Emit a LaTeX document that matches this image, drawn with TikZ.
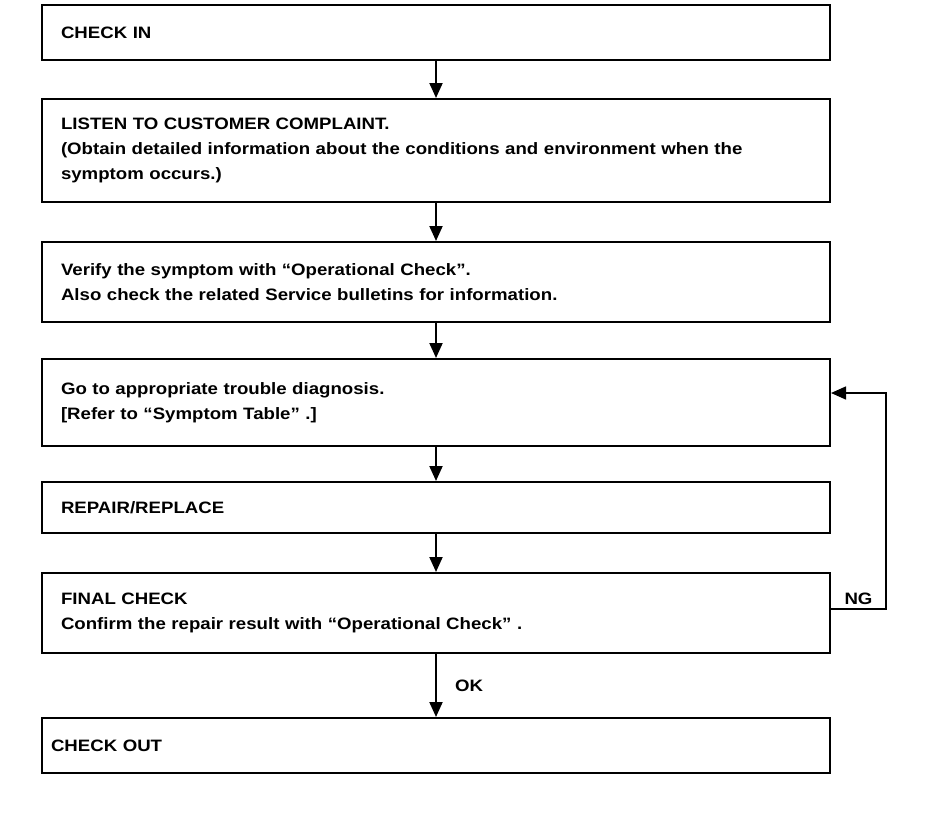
\documentclass[tikz,border=0pt]{standalone}
\usepackage{fontspec}
\setmainfont{Liberation Sans}[FakeStretch=1.13]
\usetikzlibrary{arrows.meta}
\tikzset{
  stepbox/.style={
    rectangle,
    draw,
    line width=2pt,
    minimum width=788pt,
    text width=750pt,
    inner xsep=19pt,
    align=left,
    font=\bfseries\fontsize{16.5}{25}\selectfont,
  },
  flow/.style={
    line width=2pt,
    -{Triangle[length=15pt,width=13pt]},
  },
  labeltext/.style={
    inner sep=0pt,
    font=\bfseries\fontsize{16.5}{19}\selectfont,
  }
}

\begin{document}
\begin{tikzpicture}[x=1pt, y=-1pt]
  \useasboundingbox (0, 0) rectangle (928, 838);

  \node[stepbox, minimum height=55pt] (checkin) at (436, 32.5) {CHECK IN};
  \node[stepbox, minimum height=103pt] (listen) at (436, 150.5)
    {LISTEN TO CUSTOMER COMPLAINT.\\
     (Obtain detailed information about the conditions and environment when the\\
     symptom occurs.)};
  \node[stepbox, minimum height=80pt] (verify) at (436, 282)
    {Verify the symptom with “Operational Check”.\\
     Also check the related Service bulletins for information.};
  \node[stepbox, minimum height=87pt] (diagnose) at (436, 402.5)
    {Go to appropriate trouble diagnosis.\\
     {[}Refer to “Symptom Table” .{]}};
  \node[stepbox, minimum height=51pt] (repair) at (436, 507.5) {REPAIR/REPLACE};
  \node[stepbox, minimum height=80pt] (final) at (436, 613)
    {FINAL CHECK\\
     Confirm the repair result with “Operational Check” .};
  \node[stepbox, minimum height=55pt, text width=770pt, inner xsep=9pt] (checkout)
    at (436, 745.5) {CHECK OUT};

  \foreach \from/\to in {checkin/listen, listen/verify, verify/diagnose,
                         diagnose/repair, repair/final}
    \draw[flow] (\from) -- (\to);

  \draw[flow] (final) -- node[labeltext, right=18pt] {OK} (checkout);

  \coordinate (ngturn) at (886, 609);
  \draw[flow, line width=1.5pt] ([yshift=4pt]final.east)
    -- node[labeltext, above=4pt] {NG} (ngturn)
    |- ([yshift=9.5pt]diagnose.east);

\end{tikzpicture}
\end{document}
